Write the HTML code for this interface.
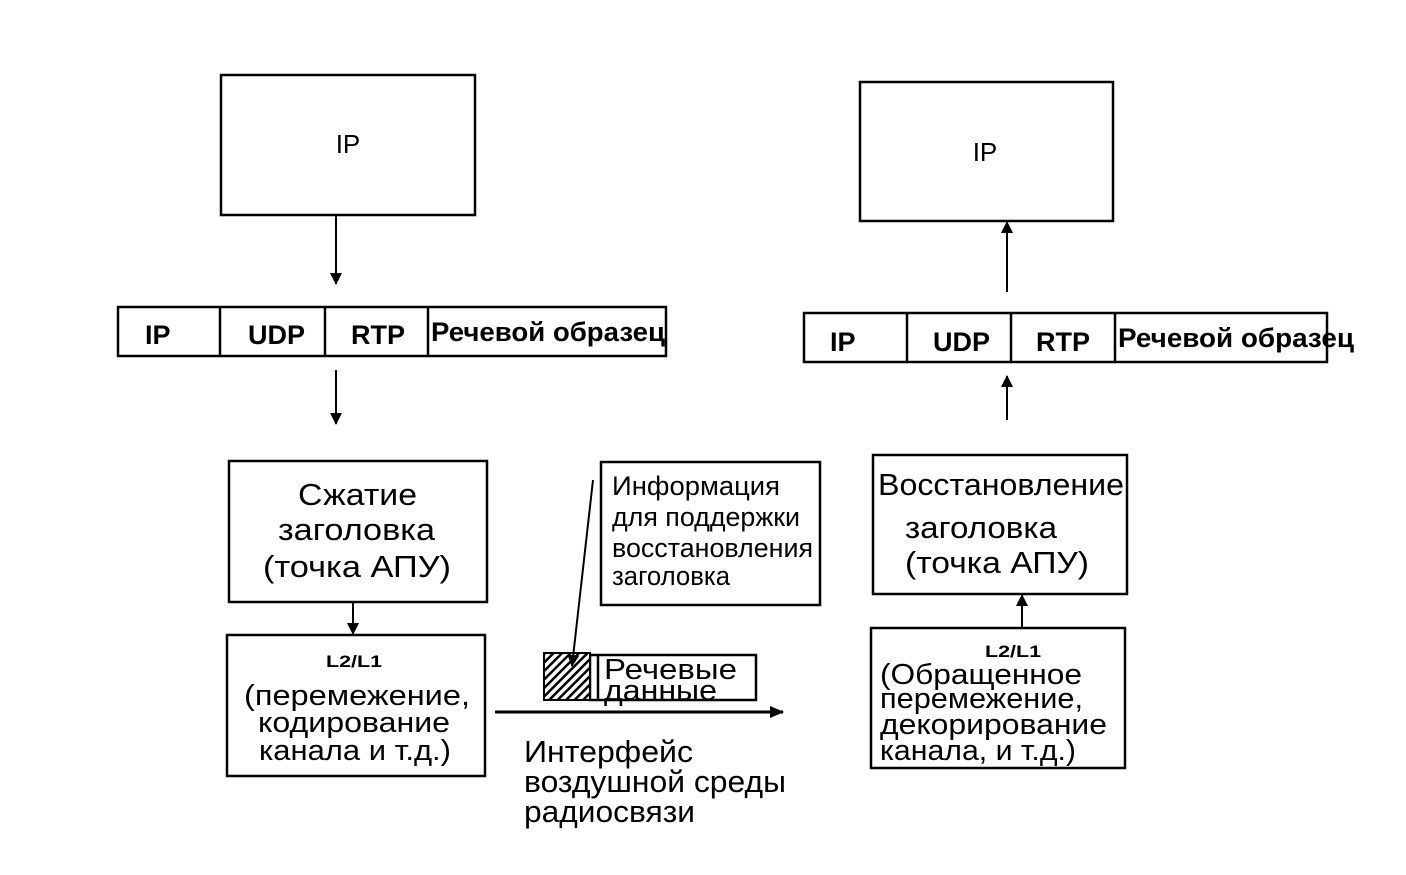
<!DOCTYPE html>
<html><head><meta charset="utf-8"><style>
html,body{margin:0;padding:0;background:#fff}
svg{display:block}
text{font-family:"Liberation Sans",sans-serif;fill:#000}
</style></head><body>
<svg width="1406" height="875" viewBox="0 0 1406 875" xmlns="http://www.w3.org/2000/svg">
<defs>
<marker id="a" markerWidth="12" markerHeight="12" refX="11" refY="6" orient="auto" markerUnits="userSpaceOnUse"><path d="M0,0 L12,6 L0,12 z" fill="#000"/></marker>
<marker id="b" markerWidth="14" markerHeight="12" refX="13" refY="6" orient="auto" markerUnits="userSpaceOnUse"><path d="M0,0 L14,6 L0,12 z" fill="#000"/></marker>
<pattern id="h" width="6" height="6" patternUnits="userSpaceOnUse" patternTransform="rotate(45)"><rect width="6" height="6" fill="#fff"/><rect width="2.5" height="6" fill="#000"/></pattern>
</defs>
<g fill="none" stroke="#000" stroke-width="2.5">
<rect x="221" y="75" width="254" height="140"/>
<rect x="860" y="82" width="253" height="139"/>
<rect x="118" y="307" width="548" height="49"/>
<line x1="220" y1="307" x2="220" y2="356"/><line x1="325" y1="307" x2="325" y2="356"/><line x1="428" y1="307" x2="428" y2="356"/>
<rect x="804" y="313" width="523" height="49"/>
<line x1="907" y1="313" x2="907" y2="362"/><line x1="1011" y1="313" x2="1011" y2="362"/><line x1="1115" y1="313" x2="1115" y2="362"/>
<rect x="229" y="461" width="258" height="141"/>
<rect x="227" y="635" width="258" height="141"/>
<rect x="601" y="462" width="219" height="143"/>
<rect x="873" y="455" width="254" height="139"/>
<rect x="871" y="628" width="254" height="140"/>
<rect x="590" y="655" width="166" height="45"/>
<line x1="598" y1="655" x2="598" y2="700"/>
</g>
<rect x="544" y="653" width="46" height="47" fill="url(#h)" stroke="#000" stroke-width="2"/>
<g stroke="#000" stroke-width="2" fill="none">
<line x1="336" y1="215" x2="336" y2="284" marker-end="url(#a)"/>
<line x1="336" y1="370" x2="336" y2="424" marker-end="url(#a)"/>
<line x1="353" y1="602" x2="353" y2="634" marker-end="url(#a)"/>
<line x1="1007" y1="292" x2="1007" y2="222" marker-end="url(#a)"/>
<line x1="1007" y1="420" x2="1007" y2="376" marker-end="url(#a)"/>
<line x1="1022" y1="628" x2="1022" y2="595" marker-end="url(#a)"/>
<line x1="593" y1="480" x2="572" y2="666" marker-end="url(#a)"/>
<line x1="495" y1="712" x2="783" y2="712" stroke-width="3" marker-end="url(#b)"/>
</g>
<text x="348" y="153" font-size="26" text-anchor="middle">IP</text>
<text x="985" y="161" font-size="26" text-anchor="middle">IP</text>
<g font-weight="bold" font-size="27">
<text x="145" y="344">IP</text><text x="248" y="344">UDP</text><text x="351" y="344">RTP</text>
<text x="431" y="341" textLength="234" lengthAdjust="spacingAndGlyphs">Речевой образец</text>
<text x="830" y="351">IP</text><text x="933" y="351">UDP</text><text x="1036" y="351">RTP</text>
<text x="1118" y="347" textLength="236" lengthAdjust="spacingAndGlyphs">Речевой образец</text>
</g>
<g font-size="31">
<text x="298" y="505" textLength="119" lengthAdjust="spacingAndGlyphs">Сжатие</text>
<text x="278" y="540" textLength="157" lengthAdjust="spacingAndGlyphs">заголовка</text>
<text x="263" y="577" textLength="188" lengthAdjust="spacingAndGlyphs">(точка АПУ)</text>
<text x="878" y="495" textLength="246" lengthAdjust="spacingAndGlyphs">Восстановление</text>
<text x="905" y="538" textLength="152" lengthAdjust="spacingAndGlyphs">заголовка</text>
<text x="905" y="573" textLength="184" lengthAdjust="spacingAndGlyphs">(точка АПУ)</text>
<text x="524" y="762" textLength="169" lengthAdjust="spacingAndGlyphs">Интерфейс</text>
<text x="524" y="792" textLength="262" lengthAdjust="spacingAndGlyphs">воздушной среды</text>
<text x="524" y="822" textLength="171" lengthAdjust="spacingAndGlyphs">радиосвязи</text>
</g>
<g font-size="29">
<text x="244" y="705" textLength="226" lengthAdjust="spacingAndGlyphs">(перемежение,</text>
<text x="258" y="732" textLength="192" lengthAdjust="spacingAndGlyphs">кодирование</text>
<text x="259" y="760" textLength="192" lengthAdjust="spacingAndGlyphs">канала и т.д.)</text>
<text x="880" y="684" textLength="202" lengthAdjust="spacingAndGlyphs">(Обращенное</text>
<text x="880" y="708" textLength="203" lengthAdjust="spacingAndGlyphs">перемежение,</text>
<text x="880" y="734" textLength="227" lengthAdjust="spacingAndGlyphs">декорирование</text>
<text x="880" y="760" textLength="196" lengthAdjust="spacingAndGlyphs">канала, и т.д.)</text>
<text x="604" y="679" textLength="133" lengthAdjust="spacingAndGlyphs">Речевые</text>
<text x="604" y="700" textLength="113" lengthAdjust="spacingAndGlyphs">данные</text>
</g>
<g font-size="27">
<text x="612" y="495" textLength="168" lengthAdjust="spacingAndGlyphs">Информация</text>
<text x="612" y="526" textLength="188" lengthAdjust="spacingAndGlyphs">для поддержки</text>
<text x="612" y="557" textLength="201" lengthAdjust="spacingAndGlyphs">восстановления</text>
<text x="612" y="585" textLength="118" lengthAdjust="spacingAndGlyphs">заголовка</text>
</g>
<g font-size="17" font-weight="bold">
<text x="326" y="667" textLength="56" lengthAdjust="spacingAndGlyphs">L2/L1</text>
<text x="985" y="657" textLength="56" lengthAdjust="spacingAndGlyphs">L2/L1</text>
</g>
</svg>
</body></html>
